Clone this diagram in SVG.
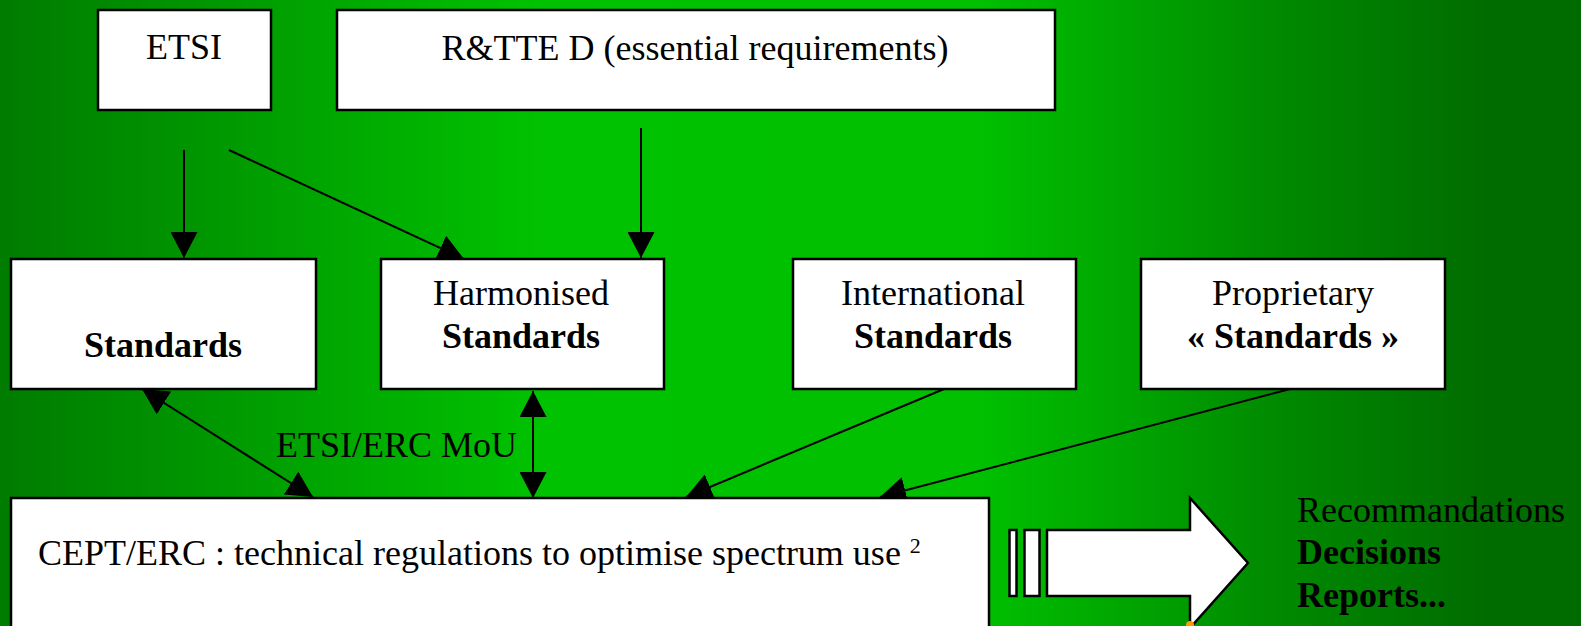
<svg xmlns="http://www.w3.org/2000/svg" width="1581" height="626" viewBox="0 0 1581 626">
<style>
.box{fill:#fff;stroke:#000;stroke-width:2.5}
.t{font-family:"Liberation Serif","Times New Roman",serif;font-size:36px;fill:#000}
.b{font-weight:bold}
.c{stroke:#000;stroke-width:2;fill:none}
</style>
<defs>
<linearGradient id="bg" x1="0" y1="0" x2="1" y2="0">
<stop offset="0" stop-color="#007c00"/>
<stop offset="0.34" stop-color="#00c200"/>
<stop offset="0.62" stop-color="#00c000"/>
<stop offset="0.8" stop-color="#008c00"/>
<stop offset="0.94" stop-color="#006c00"/>
<stop offset="1" stop-color="#006c00"/>
</linearGradient>
<marker id="ah" markerUnits="userSpaceOnUse" markerWidth="26" markerHeight="27" refX="26" refY="13.5" orient="auto">
<path d="M0,0 L26,13.5 L0,27 Z" fill="#000"/>
</marker>
<marker id="as" markerUnits="userSpaceOnUse" markerWidth="26" markerHeight="27" refX="26" refY="13.5" orient="auto-start-reverse">
<path d="M0,0 L26,13.5 L0,27 Z" fill="#000"/>
</marker>
</defs>
<rect x="0" y="0" width="1581" height="626" fill="url(#bg)"/>
<g id="connectors">
<line class="c" x1="184" y1="150" x2="184" y2="258" marker-end="url(#ah)"/>
<line class="c" x1="229" y1="150" x2="464" y2="259" marker-end="url(#ah)"/>
<line class="c" x1="641" y1="128" x2="641" y2="258" marker-end="url(#ah)"/>
<line class="c" x1="142" y1="389" x2="313" y2="497" marker-start="url(#as)" marker-end="url(#as)"/>
<line class="c" x1="533" y1="391" x2="533" y2="498" marker-start="url(#as)" marker-end="url(#as)"/>
<line class="c" x1="944" y1="389" x2="686" y2="497" marker-end="url(#ah)"/>
<line class="c" x1="1294" y1="388" x2="880" y2="497" marker-end="url(#ah)"/>
<text class="t" x="276" y="457">ETSI/ERC MoU</text>
</g>
<g id="etsi">
<rect class="box" x="98" y="10" width="173" height="100"/>
<text class="t" x="184" y="59" text-anchor="middle">ETSI</text>
</g>
<g id="rtte">
<rect class="box" x="337" y="10" width="718" height="100"/>
<text class="t" x="695" y="60" text-anchor="middle">R&amp;TTE D (essential requirements)</text>
</g>
<g id="standards">
<rect class="box" x="11" y="259" width="305" height="130"/>
<text class="t b" x="163" y="357" text-anchor="middle">Standards</text>
</g>
<g id="harmonised">
<rect class="box" x="381" y="259" width="283" height="130"/>
<text class="t" x="521" y="305" text-anchor="middle">Harmonised</text>
<text class="t b" x="521" y="348" text-anchor="middle">Standards</text>
</g>
<g id="international">
<rect class="box" x="793" y="259" width="283" height="130"/>
<text class="t" x="933" y="305" text-anchor="middle">International</text>
<text class="t b" x="933" y="348" text-anchor="middle">Standards</text>
</g>
<g id="proprietary">
<rect class="box" x="1141" y="259" width="304" height="130"/>
<text class="t" x="1293" y="305" text-anchor="middle">Proprietary</text>
<text class="t b" x="1293" y="348" text-anchor="middle">« Standards »</text>
</g>
<g id="cept">
<rect class="box" x="11" y="498" width="978" height="140"/>
<text class="t" x="38" y="565">CEPT/ERC : technical regulations to optimise spectrum use <tspan font-size="22" dy="-12">2</tspan></text>
</g>
<g id="output-arrow">
<rect class="box" x="1009.5" y="530" width="7" height="66"/>
<rect class="box" x="1024.5" y="530" width="15" height="66"/>
<path class="box" d="M1047,530 L1190,530 L1190,498 L1248,563 L1190,628 L1190,596 L1047,596 Z"/>
<circle cx="1190" cy="625" r="4" fill="#ff9900"/>
</g>
<g id="outputs">
<text class="t" x="1297" y="522">Recommandations</text>
<text class="t b" x="1297" y="564">Decisions</text>
<text class="t b" x="1297" y="607">Reports...</text>
</g>
</svg>
